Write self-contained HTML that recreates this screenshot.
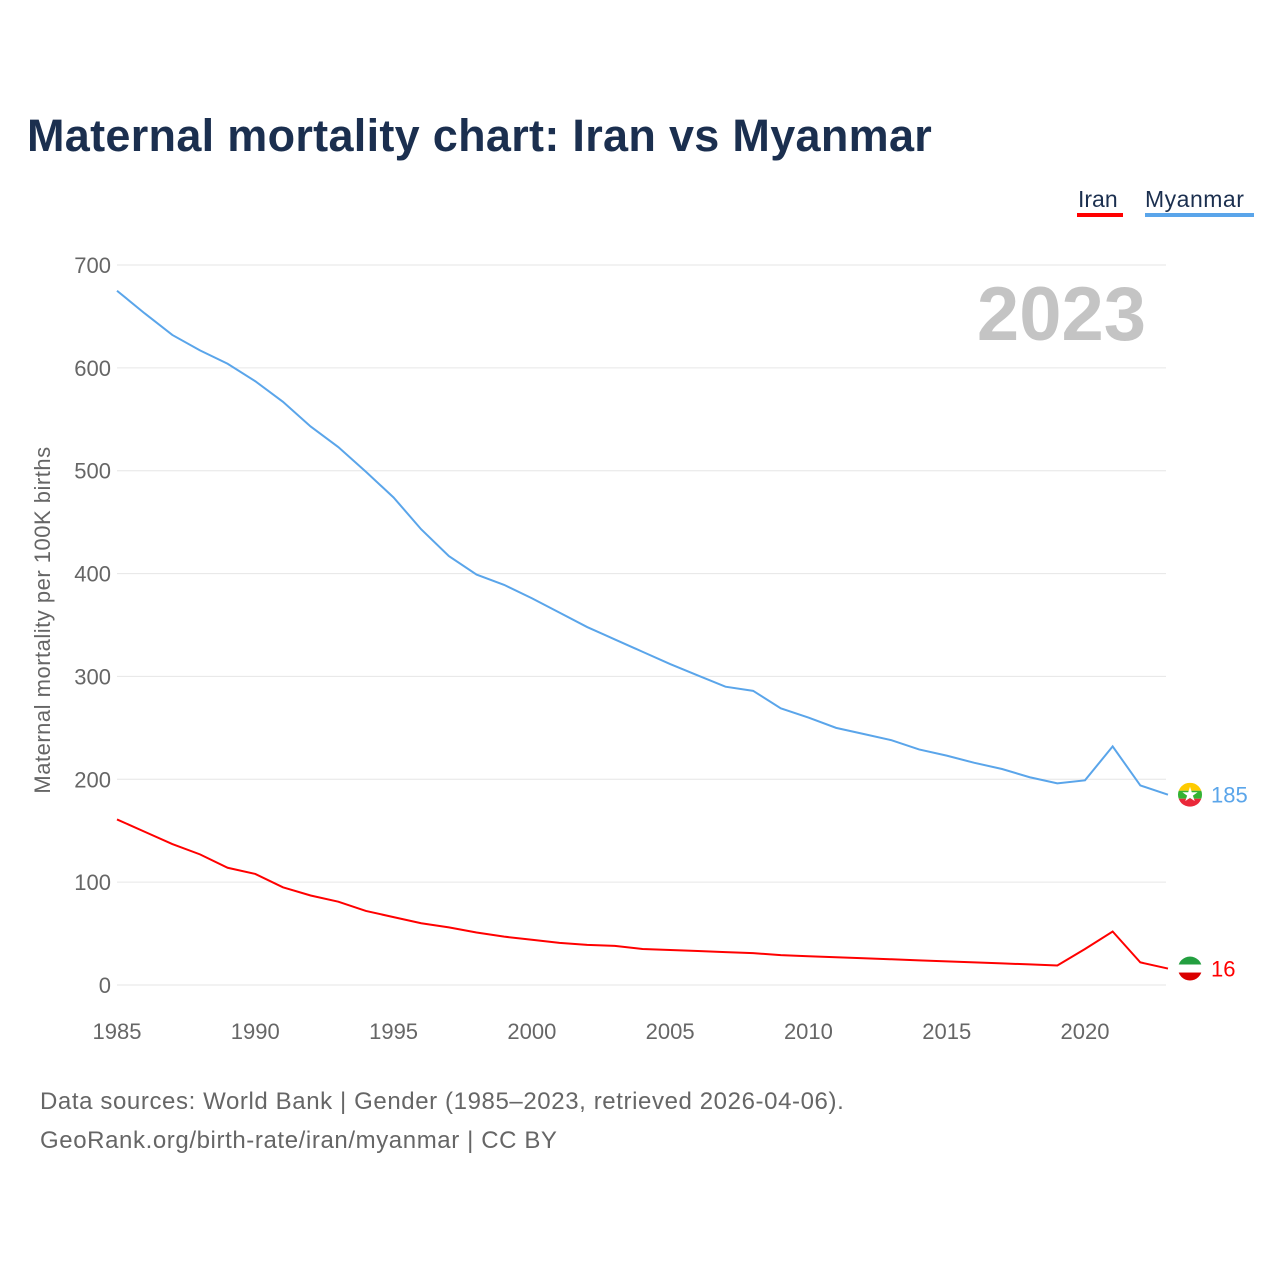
<!DOCTYPE html>
<html><head><meta charset="utf-8">
<style>
body{margin:0;width:1280px;height:1280px;background:#fff;font-family:"Liberation Sans",sans-serif;position:relative;overflow:hidden}
h1{position:absolute;left:27px;top:110px;margin:0;font-size:45px;font-weight:bold;color:#1b2f4f;letter-spacing:0.3px}
.src{position:absolute;left:40px;font-size:24px;color:#666;letter-spacing:0.6px}
</style></head><body>
<h1>Maternal mortality chart: Iran vs Myanmar</h1>
<svg width="1280" height="1280" style="position:absolute;left:0;top:0;pointer-events:none" id="chart"></svg>
<div class="src" style="top:1088px">Data sources: World Bank | Gender (1985–2023, retrieved 2026-04-06).</div>
<div class="src" style="top:1127px">GeoRank.org/birth-rate/iran/myanmar | CC BY</div>
<script>
const years=[];for(let y=1985;y<=2023;y++)years.push(y);
const myanmar=[675,653,632,617,604,587,567,543,523,499,474,443,417,399,389,376,362,348,336,324,312,301,290,286,269,260,250,244,238,229,223,216,210,202,196,199,232,194,185];
const iran=[161,149,137,127,114,108,95,87,81,72,66,60,56,51,47,44,41,39,38,35,34,33,32,31,29,28,27,26,25,24,23,22,21,20,19,35,52,22,16];
const yTicks=[0,100,200,300,400,500,600,700];
const xTicks=[1985,1990,1995,2000,2005,2010,2015,2020];
const NS="http://www.w3.org/2000/svg";
const svg=document.getElementById('chart');
const X=y=>117+(y-1985)*(1085-117)/35;
const Y=v=>985-v*(985-265)/700;
function el(t,a,txt,parent){const e=document.createElementNS(NS,t);for(const k in a)e.setAttribute(k,a[k]);if(txt!=null)e.textContent=txt;(parent||svg).appendChild(e);return e;}
yTicks.forEach(v=>{
 const l=el('line',{x1:117,x2:1166,y1:Y(v),y2:Y(v),stroke:'#e6e6e6','stroke-width':1});
 
 
 const t=el('text',{x:111,y:Y(v)+8,'text-anchor':'end','font-size':22,fill:'#666'},v);
 
 
});
xTicks.forEach(v=>{
 const t=el('text',{x:X(v),y:1039,'text-anchor':'middle','font-size':22,fill:'#666'},v);
 
 
});
const yt=el('text',{transform:'translate(50,620) rotate(-90)','text-anchor':'middle','font-size':22,fill:'#666','letter-spacing':'0.5'},'Maternal mortality per 100K births');


const yr=el('text',{x:1146,y:340,'text-anchor':'end','font-size':76,'font-weight':'bold',fill:'#c4c4c4'},'2023');


const defs=el('defs',{});
function line(data,color,name){
 const p=el('polyline',{points:data.map((v,i)=>X(years[i])+','+Y(v)).join(' '),fill:'none',stroke:color,'stroke-width':2});
 
 
 const last=data[data.length-1],cy=Y(last);
 const cp=el('clipPath',{id:'clip-'+name},null,defs);
 el('circle',{cx:1190,cy:cy,r:12},null,cp);
 const g=el('g',{'clip-path':'url(#clip-'+name+')'});
 
 
 el('rect',{x:1178,y:cy-12,width:24,height:8,fill:name==='iran'?'#239f40':'#fecb00'},null,g);
 el('rect',{x:1178,y:cy-4,width:24,height:8,fill:name==='iran'?'#fff':'#34b233'},null,g);
 el('rect',{x:1178,y:cy+4,width:24,height:8,fill:name==='iran'?'#da0000':'#ea2839'},null,g);
 if(name==='myanmar')el('polygon',{points:[0,1,2,3,4].map(i=>{const a=-Math.PI/2+i*4*Math.PI/5;return (1190+8*Math.cos(a))+','+(cy+8*Math.sin(a));}).join(' '),fill:'#fff'},null,g);
 const t=el('text',{x:1211,y:cy+8,'font-size':22,fill:color},last);
 
 
}
line(myanmar,'#5aa5ea','myanmar');
line(iran,'#ff0000','iran');
const l1=el('text',{x:1078,y:207,'font-size':23,fill:'#1b2f4f'},'Iran');


el('rect',{x:1077,y:213,width:46,height:4,fill:'#ff0000'});
const l2=el('text',{x:1145,y:207,'font-size':23,fill:'#1b2f4f','letter-spacing':'0.5'},'Myanmar');


el('rect',{x:1145,y:213,width:109,height:4,fill:'#5aa5ea'});
</script>
</body></html>
